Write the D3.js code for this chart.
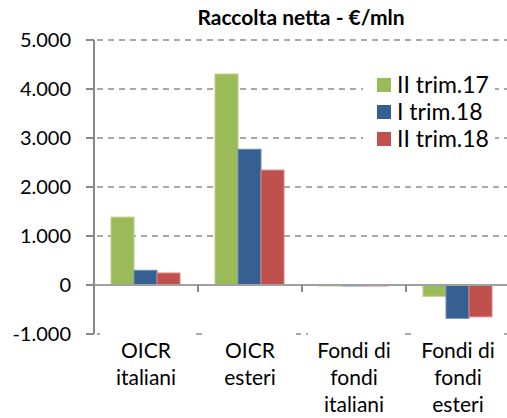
<!DOCTYPE html>
<html>
<head>
<meta charset="utf-8">
<script src="https://cdn.jsdelivr.net/npm/d3@7"></script>
<style>
	body { margin: 0; background: #fff; }
	svg { display: block; font-family: Lato, "Open Sans", sans-serif; }
</style>
</head>
<body>
<script>
var categories = [["OICR", "italiani"], ["OICR", "esteri"], ["Fondi di", "fondi", "italiani"], ["Fondi di", "fondi", "esteri"]];
var seriesNames = ["II trim.17", "I trim.18", "II trim.18"];
var seriesColors = ["#9BBB59", "#376092", "#C0504D"];
var seriesStroke = ["#b9d18a", "#6a8ab3", "#d98583"];
var values17II = [1385, 4305, -15, -230];
var values18I = [300, 2770, -3, -680];
var values18II = [245, 2345, -20, -650];
var yTicks = [-1000, 0, 1000, 2000, 3000, 4000, 5000];

var svg = d3.select("body").append("svg")
	.attr("width", 507)
	.attr("height", 418);

var margin = {top: 40, left: 94},
	width = 416,
	height = 294,
	g = svg.append("g").attr("transform", "translate(" + margin.left + "," + margin.top + ")");

var x = d3.scaleBand()
	.range([0, width])
	.domain(d3.range(categories.length));
var xInner = d3.scaleBand()
	.range([17, 86])
	.domain(d3.range(seriesNames.length));
var y = d3.scaleLinear()
	.domain([-1000, 5000])
	.range([height, 0]);

var fmt = function(d){ return d3.format(",")(d).replace(/,/g, ".").replace("\u2212", "-"); };

// gridlines
g.append("g")
	.selectAll("line")
	.data(yTicks.filter(function(d){ return d !== 0; }))
	.enter().append("line")
		.attr("x1", -8)
		.attr("x2", 420)
		.attr("y1", function(d){ return y(d); })
		.attr("y2", function(d){ return y(d); })
		.attr("stroke", "#8c8c8c")
		.attr("stroke-width", 1.5)
		.attr("stroke-dasharray", "6,5");

// bars
var table = categories.map(function(c, i){ return [values17II[i], values18I[i], values18II[i]]; });
var groups = g.selectAll(".grp").data(table).enter().append("g")
	.attr("class", "grp")
	.attr("transform", function(d, i){ return "translate(" + x(i) + ",0)"; });
groups.selectAll("rect")
	.data(function(d){ return d; })
	.enter().append("rect")
		.attr("x", function(d, j){ return xInner(j); })
		.attr("width", xInner.bandwidth())
		.attr("y", function(d){ return y(Math.max(0, d)); })
		.attr("height", function(d){ return Math.max(1, Math.abs(y(d) - y(0))); })
		.attr("fill", function(d, j){ return seriesColors[j]; })
		.attr("stroke", function(d, j){ return seriesStroke[j]; })
		.attr("stroke-width", 1);

// y axis
g.append("line")
	.attr("x1", 0).attr("x2", 0)
	.attr("y1", y(5000)).attr("y2", y(-1000))
	.attr("stroke", "#898989").attr("stroke-width", 2);
g.append("g")
	.selectAll("line")
	.data(yTicks)
	.enter().append("line")
		.attr("x1", -8).attr("x2", 0)
		.attr("y1", function(d){ return y(d); })
		.attr("y2", function(d){ return y(d); })
		.attr("stroke", "#898989").attr("stroke-width", 2);
g.append("g")
	.selectAll("text")
	.data(yTicks)
	.enter().append("text")
		.attr("x", -23)
		.attr("y", function(d){ return y(d); })
		.attr("dy", "0.35em")
		.attr("text-anchor", "end")
		.attr("font-size", 20)
		.attr("fill", "#000")
		.text(fmt);

// zero axis line
g.append("line")
	.attr("x1", 0).attr("x2", 420)
	.attr("y1", y(0)).attr("y2", y(0))
	.attr("stroke", "#a0a0a0").attr("stroke-width", 2);
g.append("g")
	.selectAll("line")
	.data(d3.range(1, categories.length))
	.enter().append("line")
		.attr("x1", function(i){ return x(i); })
		.attr("x2", function(i){ return x(i); })
		.attr("y1", y(0)).attr("y2", y(0) + 7)
		.attr("stroke", "#898989").attr("stroke-width", 2);

// category labels
var catLabels = g.append("g").selectAll("g")
	.data(categories)
	.enter().append("g")
		.attr("transform", function(d, i){ return "translate(" + (x(i) + x.bandwidth() / 2) + ",0)"; });
catLabels.append("rect")
	.attr("x", -46).attr("width", 92)
	.attr("y", y(-1000) - 6).attr("height", 12)
	.attr("fill", "#fff");
catLabels.selectAll("text")
	.data(function(d){ return d; })
	.enter().append("text")
		.attr("y", function(d, k){ return 318 + k * 27; })
		.attr("text-anchor", "middle")
		.attr("font-size", 21)
		.attr("fill", "#000")
		.text(function(d){ return d; });

// legend
var legend = svg.append("g").attr("transform", "translate(377,85)");
legend.append("rect")
	.attr("x", -14).attr("y", -14)
	.attr("width", 132).attr("height", 70)
	.attr("fill", "#fff");
var item = legend.selectAll(".item")
	.data(seriesNames)
	.enter().append("g")
		.attr("class", "item")
		.attr("transform", function(d, i){ return "translate(0," + (i * 27) + ")"; });
item.append("rect")
	.attr("x", 0).attr("y", -7)
	.attr("width", 14).attr("height", 14)
	.attr("fill", function(d, i){ return seriesColors[i]; });
item.append("text")
	.attr("x", 20)
	.attr("dy", "0.35em")
	.attr("font-size", 23)
	.attr("fill", "#000")
	.text(function(d){ return d; });

// title
svg.append("text")
	.attr("x", 301)
	.attr("y", 25)
	.attr("text-anchor", "middle")
	.attr("font-size", 21)
	.attr("font-weight", "bold")
	.attr("fill", "#000")
	.text("Raccolta netta - €/mln");
</script>
</body>
</html>
